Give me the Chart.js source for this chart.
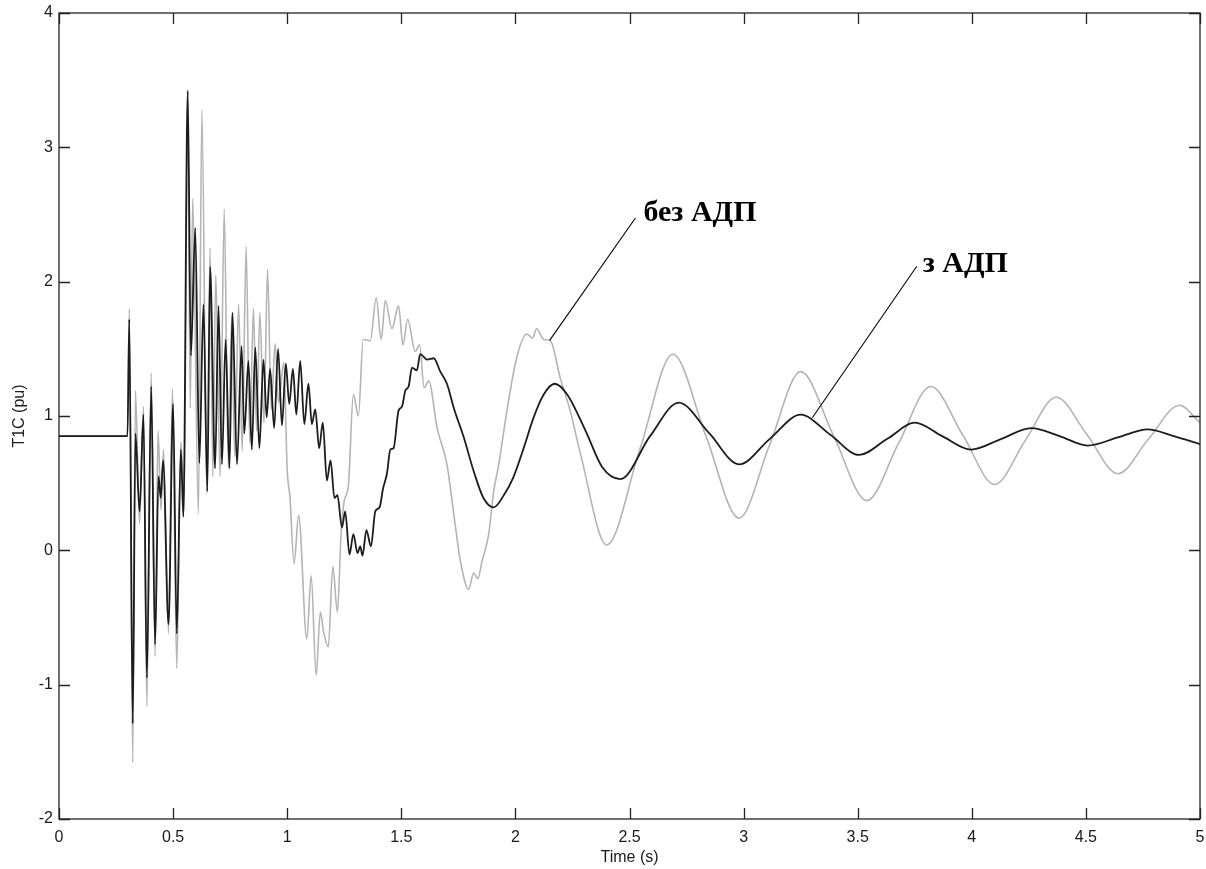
<!DOCTYPE html>
<html>
<head>
<meta charset="utf-8">
<script src="https://cdn.jsdelivr.net/npm/chart.js@4"></script>
<style>
  body { margin: 0; background: #fff; }
  #wrap { width: 1206px; height: 869px; }
</style>
</head>
<body>
<div id="wrap"><canvas id="chart" width="1206" height="869"></canvas></div>
<script>
// values
const xTicks = [0, 0.5, 1, 1.5, 2, 2.5, 3, 3.5, 4, 4.5, 5];
const xTickLabels = ['0', '0.5', '1', '1.5', '2', '2.5', '3', '3.5', '4', '4.5', '5'];
const yTicks = [-2, -1, 0, 1, 2, 3, 4];
const yTickLabels = ['-2', '-1', '0', '1', '2', '3', '4'];
const seriesNames = ['з АДП', 'без АДП'];
const axisTitles = ['Time (s)', 'T1C (pu)'];

// with the regulator (black)
const timeWith = [
  0, 0.300, 0.308, 0.323, 0.335, 0.353, 0.370, 0.385, 0.404, 0.421, 0.436, 0.446, 0.456, 0.480, 0.500, 0.516, 0.534, 0.545,
  0.564, 0.578, 0.597, 0.615, 0.633, 0.650, 0.662, 0.684, 0.699, 0.714, 0.730, 0.747, 0.760, 0.780, 0.800, 0.812, 0.830, 0.845,
  0.860, 0.878, 0.896, 0.910, 0.925, 0.943, 0.960, 0.977, 0.994, 1.009, 1.025, 1.040, 1.057, 1.075, 1.093, 1.108, 1.123, 1.140,
  1.156, 1.174, 1.190, 1.207, 1.220, 1.240, 1.254, 1.273, 1.290, 1.308, 1.320, 1.330, 1.347, 1.367, 1.386, 1.405, 1.420, 1.437,
  1.452, 1.466, 1.488, 1.503, 1.518, 1.532, 1.547, 1.568, 1.583, 1.613, 1.642, 1.671, 1.700, 1.730, 1.774, 1.817, 1.860, 1.905,
  1.949, 1.990, 2.036, 2.080, 2.124, 2.172, 2.227, 2.310, 2.380, 2.460, 2.590, 2.716, 2.850, 2.980, 3.115, 3.250, 3.380, 3.506,
  3.630, 3.750, 3.870, 3.996, 4.130, 4.260, 4.385, 4.507, 4.640, 4.770, 4.885, 5.000
];
const valWith = [
  0.85, 0.85, 1.72, -1.29, 0.87, 0.29, 1.01, -0.95, 1.22, -0.70, 0.55, 0.39, 0.67, -0.55, 1.09, -0.62, 0.75, 0.25,
  3.42, 1.45, 2.40, 0.65, 1.83, 0.44, 2.11, 0.61, 1.82, 0.64, 1.57, 0.61, 1.77, 0.64, 1.52, 0.87, 1.41, 0.75,
  1.51, 0.76, 1.42, 0.99, 1.35, 0.91, 1.50, 0.93, 1.39, 1.09, 1.35, 1.01, 1.41, 0.94, 1.24, 0.94, 1.05, 0.76,
  0.95, 0.52, 0.67, 0.39, 0.41, 0.17, 0.29, -0.03, 0.12, -0.02, 0.03, -0.04, 0.15, 0.03, 0.29, 0.32, 0.46, 0.57,
  0.75, 0.76, 1.04, 1.07, 1.19, 1.22, 1.36, 1.34, 1.46, 1.42, 1.43, 1.33, 1.24, 1.06, 0.84, 0.59, 0.39, 0.32,
  0.41, 0.54, 0.76, 0.99, 1.16, 1.24, 1.16, 0.88, 0.62, 0.53, 0.85, 1.10, 0.87, 0.64, 0.83, 1.01, 0.86, 0.71,
  0.83, 0.95, 0.85, 0.75, 0.83, 0.91, 0.85, 0.78, 0.84, 0.90, 0.85, 0.79
];

// without the regulator (grey)
const timeWithout = [
  0, 0.300, 0.308, 0.323, 0.335, 0.353, 0.370, 0.385, 0.404, 0.421, 0.434, 0.447, 0.458, 0.480, 0.497, 0.516, 0.534, 0.548,
  0.564, 0.575, 0.586, 0.611, 0.626, 0.648, 0.662, 0.674, 0.687, 0.706, 0.724, 0.742, 0.757, 0.770, 0.787, 0.803, 0.820, 0.836,
  0.852, 0.866, 0.880, 0.898, 0.914, 0.930, 0.947, 0.962, 0.985, 1.000, 1.012, 1.030, 1.050, 1.086, 1.105, 1.127, 1.145, 1.160,
  1.180, 1.200, 1.220, 1.236, 1.250, 1.268, 1.290, 1.312, 1.333, 1.364, 1.390, 1.412, 1.430, 1.459, 1.488, 1.507, 1.528, 1.561,
  1.580, 1.600, 1.620, 1.657, 1.700, 1.730, 1.759, 1.795, 1.817, 1.835, 1.854, 1.883, 1.905, 1.927, 1.963, 2.005, 2.050, 2.075,
  2.093, 2.124, 2.153, 2.197, 2.240, 2.285, 2.400, 2.545, 2.690, 2.835, 2.980, 3.115, 3.250, 3.395, 3.540, 3.680, 3.820, 3.960,
  4.100, 4.235, 4.370, 4.505, 4.640, 4.775, 4.910, 5.000
];
const valWithout = [
  0.85, 0.85, 1.80, -1.58, 1.19, 0.20, 1.07, -1.16, 1.32, -0.79, 0.89, 0.30, 0.75, -0.62, 1.20, -0.88, 0.81, 0.30,
  3.43, 1.06, 2.62, 0.27, 3.28, 0.42, 2.25, 0.55, 2.05, 0.55, 2.54, 0.62, 1.75, 0.70, 1.83, 0.74, 2.26, 0.80,
  1.80, 0.89, 1.77, 0.95, 2.09, 1.05, 1.54, 1.10, 1.40, 0.60, 0.40, -0.10, 0.26, -0.66, -0.19, -0.93, -0.46, -0.61,
  -0.72, -0.12, -0.46, 0.12, 0.37, 0.48, 1.16, 1.00, 1.57, 1.56, 1.88, 1.57, 1.86, 1.65, 1.82, 1.53, 1.72, 1.48,
  1.53, 1.21, 1.26, 0.91, 0.64, 0.27, -0.08, -0.29, -0.17, -0.21, -0.08, 0.12, 0.44, 0.64, 1.04, 1.43, 1.61, 1.58,
  1.65, 1.57, 1.56, 1.28, 1.04, 0.72, 0.04, 0.75, 1.46, 0.85, 0.24, 0.79, 1.33, 0.85, 0.37, 0.80, 1.22, 0.86,
  0.49, 0.82, 1.14, 0.86, 0.57, 0.83, 1.08, 0.95
];

const toPoints = (xs, ys) => xs.map((t, i) => ({ x: t, y: ys[i] }));

// callouts: label, label anchor, leader line ends (data units)
const callouts = [
  { text: seriesNames[1], at: [2.561, 2.450], from: [2.526, 2.474], to: [2.150, 1.563] },
  { text: seriesNames[0], at: [3.785, 2.071], from: [3.759, 2.115], to: [3.301, 0.987] }
];

const framePlugin = {
  id: 'frame',
  afterDatasetsDraw(chart) {
    const { ctx, chartArea: a, scales: { x, y } } = chart;
    ctx.save();
    ctx.strokeStyle = '#222';
    ctx.lineWidth = 1.3;
    ctx.strokeRect(a.left, a.top, a.right - a.left, a.bottom - a.top);

    // inward tick marks on all four sides
    ctx.beginPath();
    xTicks.forEach(v => {
      const px = Math.round(x.getPixelForValue(v)) + 0.5;
      ctx.moveTo(px, a.bottom); ctx.lineTo(px, a.bottom - 11);
      ctx.moveTo(px, a.top); ctx.lineTo(px, a.top + 11);
    });
    yTicks.forEach(v => {
      const py = Math.round(y.getPixelForValue(v)) + 0.5;
      ctx.moveTo(a.left, py); ctx.lineTo(a.left + 11, py);
      ctx.moveTo(a.right, py); ctx.lineTo(a.right - 11, py);
    });
    ctx.stroke();

    // callout leader lines and labels
    ctx.strokeStyle = '#000';
    ctx.lineWidth = 1.1;
    ctx.fillStyle = '#000';
    ctx.font = 'bold 30px "Liberation Serif", "Times New Roman", serif';
    ctx.textBaseline = 'alphabetic';
    callouts.forEach(c => {
      ctx.beginPath();
      ctx.moveTo(x.getPixelForValue(c.from[0]), y.getPixelForValue(c.from[1]));
      ctx.lineTo(x.getPixelForValue(c.to[0]), y.getPixelForValue(c.to[1]));
      ctx.stroke();
      ctx.fillText(c.text, x.getPixelForValue(c.at[0]), y.getPixelForValue(c.at[1]));
    });

    // axis titles
    ctx.fillStyle = '#1a1a1a';
    ctx.font = '16px "Liberation Sans", Arial, sans-serif';
    ctx.textAlign = 'center';
    ctx.textBaseline = 'middle';
    ctx.fillText(axisTitles[0], (a.left + a.right) / 2, 858);
    ctx.translate(20, (a.top + a.bottom) / 2);
    ctx.rotate(-Math.PI / 2);
    ctx.fillText(axisTitles[1], 0, 0);
    ctx.restore();
  }
};

const tickFont = { family: '"Liberation Sans", Arial, sans-serif', size: 16 };

new Chart(document.getElementById('chart'), {
  type: 'line',
  data: {
    datasets: [
      {
        label: seriesNames[0],
        data: toPoints(timeWith, valWith),
        borderColor: '#1c1c1c',
        borderWidth: 1.8,
        pointRadius: 0,
        cubicInterpolationMode: 'monotone',
        order: 0
      },
      {
        label: seriesNames[1],
        data: toPoints(timeWithout, valWithout),
        borderColor: '#b4b4b4',
        borderWidth: 1.6,
        pointRadius: 0,
        cubicInterpolationMode: 'monotone',
        order: 1
      }
    ]
  },
  options: {
    responsive: false,
    animation: false,
    events: [],
    layout: { padding: { top: 13, right: 6, bottom: 0, left: 0 } },
    scales: {
      x: {
        type: 'linear',
        min: 0,
        max: 5,
        afterBuildTicks: s => { s.ticks = xTicks.map(v => ({ value: v })); },
        afterFit: s => { s.height = 50; s.paddingLeft = 0; s.paddingRight = 0; },
        grid: { display: false, drawTicks: false },
        border: { display: false },
        ticks: {
          color: '#1a1a1a', font: tickFont, padding: 9, maxRotation: 0, autoSkip: false,
          callback: (v, i) => xTickLabels[i]
        }
      },
      y: {
        min: -2,
        max: 4,
        afterBuildTicks: s => { s.ticks = yTicks.map(v => ({ value: v })); },
        afterFit: s => { s.width = 59; s.paddingTop = 0; s.paddingBottom = 0; },
        grid: { display: false, drawTicks: false },
        border: { display: false },
        ticks: {
          color: '#1a1a1a', font: tickFont, padding: 6,
          callback: (v, i) => yTickLabels[i]
        }
      }
    },
    plugins: {
      legend: { display: false },
      tooltip: { enabled: false }
    }
  },
  plugins: [framePlugin]
});
</script>
</body>
</html>
